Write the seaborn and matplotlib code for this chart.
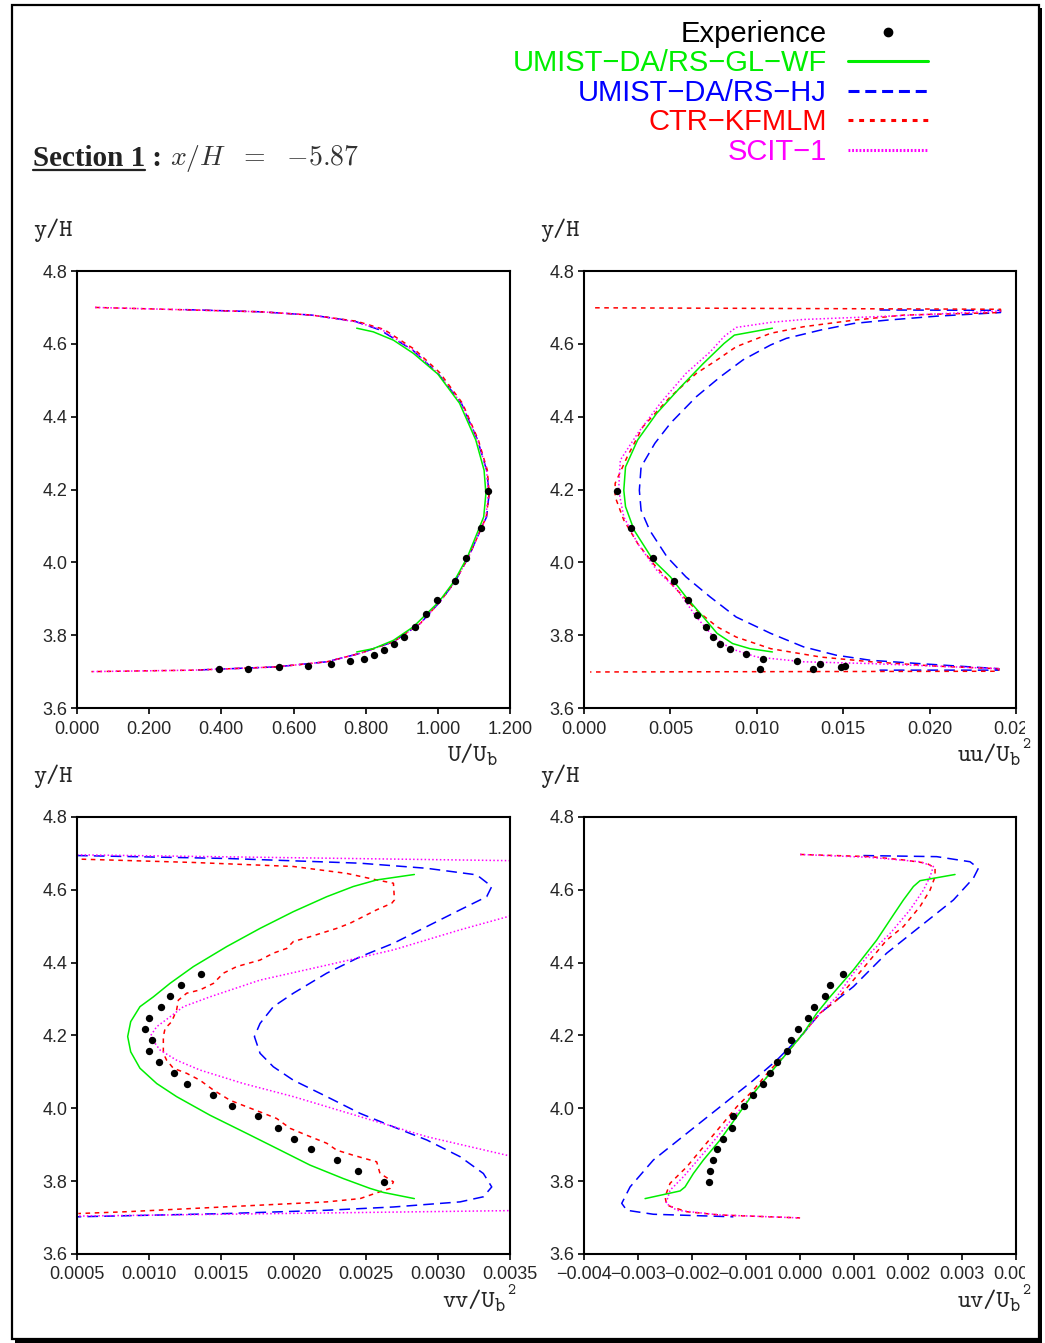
import numpy as np
import pandas as pd
import seaborn as sns
import matplotlib.pyplot as plt
from matplotlib.lines import Line2D
from matplotlib.patches import Rectangle
from matplotlib.transforms import Bbox, TransformedBbox

sns.set_theme(style="white")
plt.rcParams['font.family'] = ['Liberation Sans', 'DejaVu Sans']
plt.rcParams['mathtext.fontset'] = 'cm'

W, H = 1045, 1343
GREEN, BLUE, RED, MAGENTA = '#00ee00', '#0000ff', '#ff0000', '#ff00ff'
MODELS = ['UMIST\u2212DA/RS\u2212GL\u2212WF', 'UMIST\u2212DA/RS\u2212HJ', 'CTR\u2212KFMLM', 'SCIT\u22121']

# ---- U/Ub profile ----
exp_U = [0.394, 0.475, 0.561, 0.641, 0.705, 0.756, 0.794, 0.823, 0.852, 0.878,
         0.906, 0.936, 0.966, 0.998, 1.048, 1.078, 1.119, 1.139]
exp_U_y = [3.706, 3.708, 3.712, 3.716, 3.721, 3.729, 3.736, 3.746, 3.759, 3.776,
           3.796, 3.822, 3.857, 3.897, 3.948, 4.012, 4.093, 4.195]
gl_U = [0.775, 0.821, 0.877, 0.932, 1.000, 1.060, 1.105, 1.128, 1.133, 1.127,
        1.114, 1.082, 1.045, 1.003, 0.932, 0.877, 0.821, 0.775]
gl_U_y = [4.643, 4.633, 4.610, 4.574, 4.517, 4.437, 4.336, 4.253, 4.189, 4.125,
          4.093, 4.015, 3.948, 3.892, 3.823, 3.786, 3.763, 3.754]
hj_U = [0.30, 0.51, 0.65, 0.77, 0.84, 0.93, 1.00, 1.065, 1.11, 1.135, 1.142, 1.135,
        1.12, 1.085, 1.048, 1.006, 0.951, 0.877, 0.784, 0.692, 0.553, 0.322]
hj_U_y = [4.694, 4.688, 4.679, 4.662, 4.638, 4.583, 4.519, 4.437, 4.336, 4.253, 4.189, 4.125,
          4.093, 4.015, 3.948, 3.892, 3.832, 3.782, 3.750, 3.727, 3.713, 3.704]
kf_U = [0.05, 0.32, 0.51, 0.65, 0.775, 0.85, 0.935, 1.005, 1.068, 1.112, 1.137, 1.142, 1.134,
        1.12, 1.085, 1.048, 1.006, 0.951, 0.877, 0.784, 0.692, 0.553, 0.322, 0.04]
kf_U_y = [4.700, 4.693, 4.688, 4.679, 4.662, 4.640, 4.585, 4.521, 4.437, 4.336, 4.253, 4.189, 4.125,
          4.093, 4.015, 3.948, 3.892, 3.832, 3.782, 3.750, 3.727, 3.713, 3.704, 3.700]
sc_U = [0.05, 0.32, 0.51, 0.65, 0.77, 0.845, 0.93, 1.00, 1.065, 1.11, 1.135, 1.14, 1.133,
        1.12, 1.085, 1.048, 1.006, 0.951, 0.877, 0.784, 0.692, 0.553, 0.322, 0.04]
sc_U_y = [4.700, 4.693, 4.688, 4.679, 4.661, 4.639, 4.583, 4.519, 4.437, 4.336, 4.253, 4.189, 4.125,
          4.093, 4.015, 3.948, 3.892, 3.832, 3.782, 3.750, 3.727, 3.713, 3.704, 3.700]

# ---- uu/Ub^2 profile ----
exp_uu = [0.00191, 0.00274, 0.00401, 0.00521, 0.00600, 0.00654, 0.00706, 0.00745, 0.00787,
          0.00843, 0.00938, 0.01038, 0.01019, 0.01233, 0.01323, 0.01368, 0.01485, 0.01512]
exp_uu_y = [4.195, 4.093, 4.012, 3.948, 3.896, 3.855, 3.822, 3.796, 3.775,
            3.761, 3.747, 3.735, 3.706, 3.728, 3.707, 3.720, 3.712, 3.716]
gl_uu = [0.0109, 0.0087, 0.0081, 0.0069, 0.0056, 0.0042, 0.0031, 0.0024, 0.0023, 0.0024,
         0.0029, 0.0040, 0.0050, 0.0059, 0.0069, 0.0077, 0.0086, 0.0096, 0.0109]
gl_uu_y = [4.643, 4.624, 4.601, 4.546, 4.482, 4.409, 4.336, 4.262, 4.198, 4.153,
           4.088, 4.006, 3.960, 3.905, 3.850, 3.805, 3.777, 3.763, 3.754]
hj_uu = [0.0171, 0.0241, 0.0241, 0.0204, 0.0175, 0.0156, 0.0137, 0.0117, 0.0108, 0.0092, 0.0079,
         0.0065, 0.0050, 0.0041, 0.0033, 0.0032, 0.0033, 0.0038, 0.0048, 0.0059, 0.0073, 0.0088,
         0.0108, 0.0127, 0.0146, 0.0166, 0.0194, 0.0240, 0.0240, 0.0171]
hj_uu_y = [4.693, 4.692, 4.686, 4.676, 4.665, 4.656, 4.638, 4.615, 4.597, 4.556, 4.510,
           4.455, 4.382, 4.327, 4.262, 4.198, 4.143, 4.088, 4.015, 3.960, 3.905, 3.850,
           3.805, 3.768, 3.745, 3.731, 3.722, 3.708, 3.704, 3.704]
kf_uu = [0.00064, 0.0241, 0.0241, 0.0185, 0.0156, 0.0127, 0.0108, 0.0088, 0.0077, 0.0065, 0.0050,
         0.0034, 0.0025, 0.0018, 0.0018, 0.0023, 0.0031, 0.0040, 0.0052, 0.0065, 0.0077, 0.0088,
         0.0108, 0.0137, 0.0166, 0.0204, 0.0240, 0.0240, 0.00035]
kf_uu_y = [4.699, 4.695, 4.686, 4.679, 4.665, 4.647, 4.629, 4.592, 4.556, 4.519, 4.455,
           4.372, 4.290, 4.217, 4.180, 4.116, 4.052, 3.997, 3.933, 3.869, 3.823, 3.795,
           3.763, 3.740, 3.727, 3.715, 3.708, 3.701, 3.699]
sc_uu = [0.0241, 0.0171, 0.0127, 0.0108, 0.0088, 0.0081, 0.0073, 0.0059, 0.0044, 0.0031, 0.0021,
         0.0020, 0.0023, 0.0031, 0.0042, 0.0054, 0.0065, 0.0075, 0.0085, 0.0100, 0.0127, 0.0166,
         0.0204, 0.0240]
sc_uu_y = [4.690, 4.675, 4.667, 4.659, 4.645, 4.620, 4.578, 4.519, 4.436, 4.354, 4.281,
           4.198, 4.125, 4.052, 3.979, 3.924, 3.850, 3.795, 3.763, 3.740, 3.727, 3.722,
           3.715, 3.708]

# ---- vv/Ub^2 profile ----
exp_vv = [0.001361, 0.001218, 0.001147, 0.001080, 0.000997, 0.000971, 0.001017, 0.000997,
          0.001066, 0.001174, 0.001264, 0.001442, 0.001574, 0.001754, 0.001890, 0.002003,
          0.002124, 0.002301, 0.002447, 0.002627]
exp_y = [4.368, 4.338, 4.308, 4.278, 4.248, 4.218, 4.187, 4.158, 4.128, 4.098,
         4.067, 4.037, 4.007, 3.978, 3.947, 3.917, 3.887, 3.857, 3.827, 3.797]
gl_vv = [0.002837, 0.002576, 0.002414, 0.00223, 0.001999, 0.001768, 0.001537, 0.001306, 0.001144,
         0.001029, 0.000936, 0.000872, 0.000851, 0.000872, 0.000936, 0.001052, 0.00119, 0.001421,
         0.001676, 0.001883, 0.002114, 0.002345, 0.00253, 0.002622, 0.002837]
gl_vv_y = [4.642, 4.627, 4.609, 4.581, 4.540, 4.494, 4.444, 4.389, 4.343,
           4.306, 4.279, 4.238, 4.197, 4.155, 4.110, 4.068, 4.032, 3.981,
           3.931, 3.890, 3.844, 3.807, 3.780, 3.769, 3.752]
hj_vv = [0.0005, 0.001537, 0.002461, 0.002923, 0.003269, 0.003373, 0.003338, 0.003154, 0.002923,
         0.002692, 0.002461, 0.00223, 0.001999, 0.00186, 0.001768, 0.001729, 0.001768, 0.00186,
         0.001999, 0.00223, 0.002461, 0.002692, 0.002923, 0.003154, 0.003315, 0.003373, 0.003315,
         0.003154, 0.002692, 0.00223, 0.001537, 0.0005]
hj_vv_y = [4.694, 4.686, 4.673, 4.659, 4.641, 4.609, 4.581, 4.545, 4.499,
           4.453, 4.416, 4.371, 4.316, 4.279, 4.233, 4.197, 4.151, 4.114,
           4.077, 4.032, 3.986, 3.949, 3.913, 3.867, 3.821, 3.784, 3.757,
           3.743, 3.729, 3.720, 3.711, 3.702]
kf_vv = [0.000532, 0.001306, 0.001999, 0.002368, 0.002576, 0.002692, 0.002699, 0.00268, 0.002576,
         0.002461, 0.002391, 0.002299, 0.002114, 0.001999, 0.001953, 0.00186, 0.001768, 0.001606,
         0.001514, 0.001445, 0.001352, 0.00126, 0.001202, 0.00119, 0.001156, 0.00111, 0.001098,
         0.001098, 0.001121, 0.001167, 0.00126, 0.001352, 0.001445, 0.00156, 0.001676, 0.001768,
         0.001883, 0.001976, 0.002091, 0.00223, 0.002299, 0.002414, 0.002576, 0.002599, 0.002692,
         0.002669, 0.002599, 0.002461, 0.00223, 0.001768, 0.001306, 0.000844, 0.000509]
kf_vv_y = [4.684, 4.675, 4.664, 4.645, 4.627, 4.618, 4.572, 4.563, 4.545,
           4.522, 4.508, 4.494, 4.471, 4.458, 4.439, 4.426, 4.407, 4.389,
           4.371, 4.343, 4.325, 4.316, 4.297, 4.270, 4.238, 4.219, 4.197,
           4.151, 4.132, 4.110, 4.096, 4.077, 4.050, 4.022, 4.004, 3.990,
           3.972, 3.945, 3.926, 3.904, 3.885, 3.871, 3.853, 3.821, 3.798,
           3.780, 3.771, 3.752, 3.743, 3.734, 3.725, 3.716, 3.711]
sc_vv = [0.0005, 0.0035, 0.0042, 0.0042, 0.0035, 0.003154, 0.002692, 0.00223, 0.001768, 0.001421,
         0.001237, 0.001144, 0.001052, 0.001006, 0.001075, 0.00119, 0.001352, 0.001652, 0.001999,
         0.002461, 0.002923, 0.0035, 0.0042, 0.0042, 0.0035, 0.0005]
sc_vv_y = [4.696, 4.680, 4.650, 4.550, 4.528, 4.490, 4.435, 4.393, 4.352, 4.306,
           4.279, 4.251, 4.224, 4.197, 4.160, 4.132, 4.105, 4.068, 4.032,
           3.977, 3.922, 3.869, 3.800, 3.730, 3.719, 3.704]

# ---- uv/Ub^2 profile ----
exp_uv = [0.000802, 0.000562, 0.000457, 0.000259, 0.000154, -0.000037, -0.000173, -0.000241,
          -0.000426, -0.000562, -0.000685, -0.000864, -0.001037, -0.001235, -0.001253, -0.001432,
          -0.001537, -0.001617, -0.001667, -0.001685]
gl_uv = [0.00287, 0.002222, 0.002099, 0.001914, 0.001728, 0.00142, 0.000988, 0.000556, 0.000309,
         0.000062, -0.000247, -0.000556, -0.000864, -0.001173, -0.001481, -0.00179, -0.001975,
         -0.00213, -0.002222, -0.00287]
gl_uv_y = [4.642, 4.625, 4.609, 4.572, 4.531, 4.462, 4.380, 4.306, 4.261,
           4.206, 4.151, 4.096, 4.041, 3.977, 3.913, 3.858, 3.821,
           3.784, 3.773, 3.752]
hj_uv = [0.001173, 0.002531, 0.003148, 0.003302, 0.00321, 0.00284, 0.002222, 0.001605, 0.000988,
         0.00037, 0.000062, -0.000432, -0.000864, -0.001481, -0.002099, -0.002716, -0.003148,
         -0.003302, -0.00321, -0.002716, -0.001235]
hj_uv_y = [4.694, 4.691, 4.677, 4.659, 4.632, 4.572, 4.499, 4.426, 4.334,
           4.261, 4.206, 4.132, 4.077, 4.004, 3.931, 3.858, 3.784,
           3.739, 3.720, 3.709, 3.702]
kf_uv = [0.0, 0.001296, 0.001914, 0.002346, 0.0025, 0.0025, 0.002407, 0.002222, 0.001914, 0.001605,
         0.001296, 0.000988, 0.000679, 0.00037, 0.000062, -0.000247, -0.000556, -0.000864,
         -0.001173, -0.001481, -0.00179, -0.002099, -0.002407, -0.0025, -0.002469, -0.002099,
         -0.001481, 0.0]
kf_uv_y = [4.697, 4.691, 4.682, 4.673, 4.659, 4.636, 4.599, 4.554, 4.499, 4.462,
           4.407, 4.352, 4.297, 4.261, 4.206, 4.151, 4.105, 4.050,
           4.004, 3.949, 3.894, 3.839, 3.794, 3.757, 3.734, 3.716,
           3.707, 3.699]
sc_uv = [0.0, 0.001296, 0.002222, 0.002469, 0.002407, 0.002284, 0.002037, 0.001667, 0.001296,
         0.000988, 0.000679, 0.00037, 0.000062, -0.000247, -0.000556, -0.000864, -0.001173,
         -0.001481, -0.00179, -0.00216, -0.002407, -0.002481, -0.002284, -0.001481, 0.0]
sc_uv_y = [4.697, 4.689, 4.677, 4.664, 4.636, 4.599, 4.545, 4.480, 4.426,
           4.371, 4.306, 4.261, 4.206, 4.151, 4.096, 4.041, 3.986,
           3.931, 3.876, 3.812, 3.775, 3.739, 3.720, 3.707, 3.699]

# line styles in the plots and (thicker) in the legend
STYLES = {
    'gl': dict(color=GREEN, ls='-', leg_ls='-'),
    'hj': dict(color=BLUE, ls=(0, (7, 4)), leg_ls=(0, (3.6, 1.9))),
    'kf': dict(color=RED, ls=(0, (3, 3)), leg_ls=(0, (1.6, 1.9))),
    'sc': dict(color=MAGENTA, ls=(0, (1, 1.5)), leg_ls=(0, (0.6, 0.6))),
}

panels = [
    dict(rect=[0.0737, 0.4728, 0.4144, 0.3254], xlim=(0.0, 1.2), step=0.2, fmt='{:.3f}',
         xname='U/U', squared=False, b_right=497, base=708,
         exp=(exp_U, exp_U_y),
         curves=[('hj', hj_U, hj_U_y), ('kf', kf_U, kf_U_y), ('sc', sc_U, sc_U_y), ('gl', gl_U, gl_U_y)]),
    dict(rect=[0.5589, 0.4728, 0.4134, 0.3254], xlim=(0.0, 0.025), step=0.005, fmt='{:.3f}',
         xname='uu/U', squared=True, b_right=1020, base=708,
         exp=(exp_uu, exp_uu_y),
         curves=[('hj', hj_uu, hj_uu_y), ('kf', kf_uu, kf_uu_y), ('sc', sc_uu, sc_uu_y), ('gl', gl_uu, gl_uu_y)]),
    dict(rect=[0.0737, 0.0663, 0.4144, 0.3254], xlim=(0.0005, 0.0035), step=0.0005, fmt='{:.4f}',
         xname='vv/U', squared=True, b_right=505, base=1254,
         exp=(exp_vv, exp_y),
         curves=[('hj', hj_vv, hj_vv_y), ('kf', kf_vv, kf_vv_y), ('sc', sc_vv, sc_vv_y), ('gl', gl_vv, gl_vv_y)]),
    dict(rect=[0.5589, 0.0663, 0.4134, 0.3254], xlim=(-0.004, 0.004), step=0.001, fmt='{:.3f}',
         xname='uv/U', squared=True, b_right=1020, base=1254,
         exp=(exp_uv, exp_y),
         curves=[('hj', hj_uv, hj_uv_y), ('kf', kf_uv, kf_uv_y), ('sc', sc_uv, sc_uv_y), ('gl', gl_uv, gl_uv_y)]),
]

fig = plt.figure(figsize=(10.45, 13.43), dpi=100)
fig.patch.set_facecolor('white')

# page frame with a small drop shadow
fig.add_artist(Rectangle((0.0145, 0.0), 0.983, 0.9941, transform=fig.transFigure,
                         facecolor='black', edgecolor='none', zorder=-3))
fig.add_artist(Rectangle((0.0115, 0.0030), 0.9832, 0.9933, transform=fig.transFigure,
                         facecolor='white', edgecolor='black', lw=1.6, zorder=-2))

clip = TransformedBbox(Bbox([[0, 0], [1025 / W, 1]]), fig.transFigure)
TT = 'cmtt10'
axes = []
for p in panels:
    ax = fig.add_axes(p['rect'])
    ax.set_facecolor('none')
    for key, xs, ys in p['curves']:
        st = STYLES[key]
        df = pd.DataFrame({'x': xs, 'y': ys})
        sns.lineplot(data=df, x='x', y='y', sort=False, estimator=None, ax=ax,
                     color=st['color'], linestyle=st['ls'], lw=1.1, legend=False)
    ex = pd.DataFrame({'x': p['exp'][0], 'y': p['exp'][1]})
    sns.scatterplot(data=ex, x='x', y='y', ax=ax, color='black', s=28, linewidth=0,
                    legend=False, zorder=5)
    ax.set_xlim(*p['xlim'])
    ax.set_ylim(3.6, 4.8)
    lo, hi = p['xlim']
    n = int(round((hi - lo) / p['step']))
    ticks = [lo + i * p['step'] for i in range(n + 1)]
    ax.set_xticks(ticks)
    ax.set_xticklabels([p['fmt'].format(t).replace('-', '\u2212') for t in ticks], fontsize=13)
    ax.set_yticks([3.6, 3.8, 4.0, 4.2, 4.4, 4.6, 4.8])
    ax.set_yticklabels(['3.6', '3.8', '4.0', '4.2', '4.4', '4.6', '4.8'], fontsize=13)
    ax.tick_params(axis='both', direction='out', length=4, width=1.2, color='black',
                   bottom=True, left=True)
    ax.tick_params(axis='x', pad=5)
    ax.tick_params(axis='y', pad=3)
    for s in ax.spines.values():
        s.set_color('black')
        s.set_linewidth(1.5)
    ax.set_xlabel('')
    ax.set_ylabel('')
    for lab in ax.get_xticklabels():
        lab.set_clip_on(True)
        lab.set_clip_box(clip)

    # x label: name, lowered subscript b and a raised 2
    bx = p['b_right']
    fig.text(bx / W, 1 - (p['base'] + 57) / H, 'b', family=TT, fontsize=14,
             ha='right', va='baseline')
    fig.text((bx - 10) / W, 1 - (p['base'] + 53) / H, p['xname'], family=TT, fontsize=18,
             ha='right', va='baseline')
    if p['squared']:
        fig.text((bx + 2) / W, 1 - (p['base'] + 40) / H, '2', family=TT, fontsize=11,
                 ha='left', va='baseline')
    axes.append(ax)

# y/H labels above each axes
for (x, y) in [(33, 230), (540, 230), (33, 776), (540, 776)]:
    fig.text(x / W, 1 - y / H, 'y/H', family=TT, fontsize=18, va='center', ha='left')

# title
t_sec = fig.text(33 / W, 1 - 158 / H, 'Section 1', fontsize=21, fontweight='bold',
                 family='Liberation Serif', va='center', ha='left', color='#222222')
t_rest = axes[0].annotate(r' : ', xy=(1, 0.5), xycoords=t_sec, va='center', ha='left',
                          fontsize=21, fontweight='bold', family='Liberation Serif',
                          color='#222222', annotation_clip=False)
axes[0].annotate(r'$x/H\ \ =\ \ {-5.87}$', xy=(1, 0.5), xycoords=t_rest, va='center', ha='left',
                 fontsize=20, color='#333333', annotation_clip=False)

# legend
handles = [Line2D([], [], ls='none', marker='o', color='black', markersize=6)]
for key in ['gl', 'hj', 'kf', 'sc']:
    st = STYLES[key]
    handles.append(Line2D([], [], color=st['color'], ls=st['leg_ls'], lw=2.2))
leg = fig.legend(handles, ['Experience'] + MODELS, loc='upper right',
                 bbox_to_anchor=(928 / W, 1 - 20 / H), frameon=False, markerfirst=False,
                 fontsize=21, labelspacing=0.05, handlelength=2.75, handletextpad=0.72,
                 borderpad=0, borderaxespad=0, labelcolor='linecolor')
for txt in leg.get_texts():
    txt.set_family(['Liberation Sans', 'DejaVu Sans'])

fig.canvas.draw()
bb = t_sec.get_window_extent().transformed(fig.transFigure.inverted())
fig.add_artist(Line2D([bb.x0, bb.x1], [bb.y0 + 0.001, bb.y0 + 0.001], color='#222222', lw=1.6,
                      transform=fig.transFigure))

fig.savefig('out.png', dpi=100)
